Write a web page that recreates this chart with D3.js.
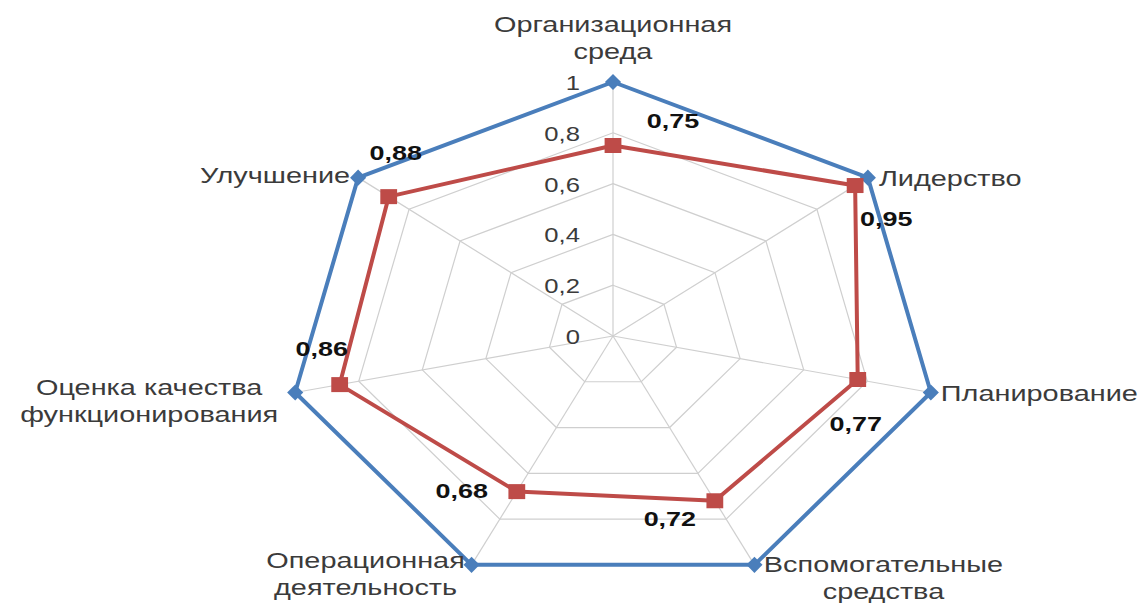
<!DOCTYPE HTML>
<html lang="ru">
<head>
    <meta http-equiv="Content-Type" content="text/html; charset=utf-8">
    <title>Radar</title>
    <script src="https://cdn.jsdelivr.net/npm/d3@7"></script>
    <style type="text/css">
        html,body{margin:0;padding:0;background:#fff}
        #svgWrap{width:1143px;height:603px}
        text{font-family:"Liberation Sans",Arial,sans-serif;fill:#3b3b3b}
    </style>
</head>
<body>
<div id="svgWrap"></div>
<script type="text/javascript">
// categories, clockwise from top
var categories=[
    ["Организационная","среда"],
    ["Лидерство"],
    ["Планирование"],
    ["Вспомогательные","средства"],
    ["Операционная","деятельность"],
    ["Оценка качества","функционирования"],
    ["Улучшение"]
];
var targetValues=[1,1,1,1,1,1,1];// blue series
var actualValues=[0.75,0.95,0.77,0.72,0.68,0.86,0.88];// red series
var actualLabels=["0,75","0,95","0,77","0,72","0,68","0,86","0,88"];
var gridTicks=[0,0.2,0.4,0.6,0.8,1];
var tickLabels=["0","0,2","0,4","0,6","0,8","1"];

// layout
var W=1143,H=603;
var cx=613,cy=336;
var rx=326,ry=254;
var sx=rx/ry;// horizontal stretch of the picture
var blue="#4a7ebb",red="#be4b48",grid="#cfcfcf";
// label placement: [dx,dy,anchor] relative to outer vertex
var catPos=[[0,-50,"middle"],[11,8,"start"],[10,8,"start"],[129,7,"middle"],[-106,3,"middle"],[-146,2,"middle"],[-8,5,"end"]];
// data-label offsets relative to red point
var valPos=[[60,-18],[31,40],[-2,51],[-45,25],[-55,6],[-18,-29],[7,-37]];

var xScale=d3.scaleLinear().domain([0,1]).range([0,rx]);
var yScale=d3.scaleLinear().domain([0,1]).range([0,ry]);
var n=categories.length;
function angle(i){return 2*Math.PI*i/n;}
function px(i,v){return cx+xScale(v)*Math.sin(angle(i));}
function py(i,v){return cy-yScale(v)*Math.cos(angle(i));}

var svg=d3.select("#svgWrap").append("svg")
    .attr("width",W)
    .attr("height",H);

function ring(v){
    return d3.range(n).map(function(i){return [px(i,v),py(i,v)];});
}
var closedLine=d3.line().curve(d3.curveLinearClosed);

// grid polygons
svg.append("g").selectAll("path")
    .data(gridTicks.slice(1))
    .enter().append("path")
    .attr("d",function(d){return closedLine(ring(d));})
    .attr("fill","none")
    .attr("stroke",grid)
    .attr("stroke-width",1.2);
// spokes
svg.append("g").selectAll("line")
    .data(d3.range(n))
    .enter().append("line")
    .attr("x1",cx).attr("y1",cy)
    .attr("x2",function(i){return px(i,1);})
    .attr("y2",function(i){return py(i,1);})
    .attr("stroke",grid)
    .attr("stroke-width",1.2);

// tick labels
svg.append("g").selectAll("text")
    .data(gridTicks)
    .enter().append("text")
    .attr("text-anchor","end")
    .attr("transform",function(d){return "translate("+(cx-33)+","+(cy-yScale(d)+8)+") scale("+sx+",1)";})
    .style("font-size","20px")
    .text(function(d,i){return tickLabels[i];});

// series
function drawSeries(vals,color,marker){
    var pts=vals.map(function(v,i){return [px(i,v),py(i,v)];});
    svg.append("path")
        .attr("d",closedLine(pts))
        .attr("fill","none")
        .attr("stroke",color)
        .attr("stroke-width",4)
        .attr("stroke-linejoin","round");
    svg.append("g").selectAll("path")
        .data(pts)
        .enter().append("path")
        .attr("transform",function(d){
            return "translate("+d[0]+","+d[1]+")"+(marker=="diamond"?" rotate(45)":" scale(1.12,1)");
        })
        .attr("d",d3.symbol().type(d3.symbolSquare).size(marker=="diamond"?130:225))
        .attr("fill",color);
    return pts;
}
drawSeries(targetValues,blue,"diamond");
var redPts=drawSeries(actualValues,red,"square");

// data labels
svg.append("g").selectAll("text")
    .data(redPts)
    .enter().append("text")
    .attr("text-anchor","middle")
    .attr("transform",function(d,i){return "translate("+(d[0]+valPos[i][0])+","+(d[1]+valPos[i][1])+") scale("+sx+",1)";})
    .style("font-size","21px")
    .style("font-weight","bold")
    .style("fill","#111")
    .text(function(d,i){return actualLabels[i];});

// category labels
var cat=svg.append("g").selectAll("text")
    .data(categories)
    .enter().append("text")
    .attr("text-anchor",function(d,i){return catPos[i][2];})
    .attr("transform",function(d,i){return "translate("+(px(i,1)+catPos[i][0])+","+(py(i,1)+catPos[i][1])+") scale("+sx+",1)";})
    .style("font-size","22.5px");
cat.selectAll("tspan")
    .data(function(d){return d;})
    .enter().append("tspan")
    .attr("x",0)
    .attr("dy",function(d,j){return j==0?0:27;})
    .text(function(d){return d;});
</script>
</body>
</html>
